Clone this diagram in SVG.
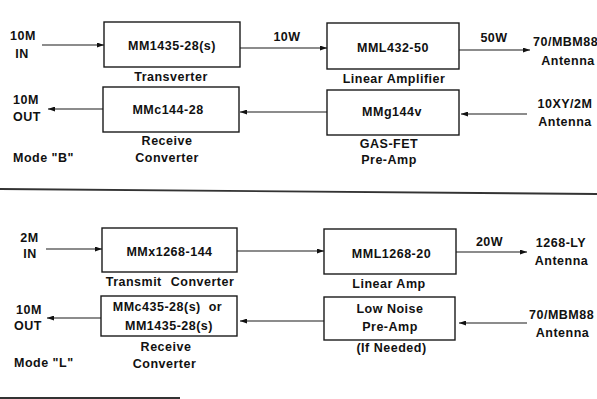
<svg xmlns="http://www.w3.org/2000/svg" width="597" height="399" viewBox="0 0 597 399">
<defs>
<style>
text{font-family:"Liberation Sans",Arial,sans-serif;font-weight:bold;font-size:12.5px;letter-spacing:0.5px;fill:#111}
.m{text-anchor:middle}
.box{fill:#fff;stroke:#1a1a1a;stroke-width:1.4}
.w{stroke:#1a1a1a;stroke-width:1.1;fill:none}
.rule{stroke:#333;stroke-width:1.8;fill:none}
</style>
<marker id="ah" viewBox="0 0 7 5" refX="7" refY="2.5" markerWidth="7" markerHeight="5" markerUnits="userSpaceOnUse" orient="auto">
<path d="M0,0 L7,2.5 L0,5 z" fill="#111"/>
</marker>
</defs>
<rect width="597" height="399" fill="#fff"/>

<g id="connectors">
<line class="w" x1="42" y1="45" x2="104" y2="45" marker-end="url(#ah)"/>
<line class="w" x1="240" y1="48" x2="327" y2="48" marker-end="url(#ah)"/>
<line class="w" x1="459" y1="50" x2="530" y2="50" marker-end="url(#ah)"/>
<line class="w" x1="103" y1="109" x2="48" y2="109" marker-end="url(#ah)"/>
<line class="w" x1="327" y1="112" x2="240" y2="112" marker-end="url(#ah)"/>
<line class="w" x1="527" y1="114" x2="461" y2="114" marker-end="url(#ah)"/>
<line class="w" x1="46" y1="249" x2="102" y2="249" marker-end="url(#ah)"/>
<line class="w" x1="237" y1="251" x2="324" y2="251" marker-end="url(#ah)"/>
<line class="w" x1="456" y1="252" x2="527" y2="252" marker-end="url(#ah)"/>
<line class="w" x1="101" y1="318" x2="47" y2="318" marker-end="url(#ah)"/>
<line class="w" x1="324" y1="321" x2="240" y2="321" marker-end="url(#ah)"/>
<line class="w" x1="527" y1="323" x2="459" y2="323" marker-end="url(#ah)"/>
<text class="m" x="287" y="40.7">10W</text>
<text class="m" x="494" y="41.5">50W</text>
<text class="m" x="489.5" y="246.3">20W</text>
</g>

<g id="rules">
<line class="rule" x1="0" y1="189" x2="597" y2="194"/>
<line class="rule" x1="0" y1="398" x2="180" y2="398"/>
</g>

<g id="in-10m-b">
<text class="m" x="23" y="39.5">10M</text>
<text class="m" x="22" y="57.5">IN</text>
</g>
<g id="transverter">
<rect class="box" x="104" y="22" width="136" height="45"/>
<text class="m" x="172" y="49.5">MM1435-28(s)</text>
<text class="m" x="171" y="81">Transverter</text>
</g>
<g id="linear-amplifier">
<rect class="box" x="327" y="23" width="132" height="46"/>
<text class="m" x="393" y="52">MML432-50</text>
<text class="m" x="394" y="83">Linear Amplifier</text>
</g>
<g id="ant-70mbm88-b">
<text x="533" y="46">70/MBM88</text>
<text class="m" x="568" y="65">Antenna</text>
</g>
<g id="out-10m-b">
<text class="m" x="26" y="104">10M</text>
<text class="m" x="27" y="120.7">OUT</text>
</g>
<g id="receive-converter-b">
<rect class="box" x="103" y="87" width="136" height="45"/>
<text class="m" x="168" y="114.3">MMc144-28</text>
<text class="m" x="167" y="145">Receive</text>
<text class="m" x="167" y="161.7">Converter</text>
</g>
<g id="gasfet-preamp">
<rect class="box" x="327" y="90" width="132" height="45"/>
<text class="m" x="392" y="115.7">MMg144v</text>
<text class="m" x="389" y="148">GAS-FET</text>
<text class="m" x="389" y="164">Pre-Amp</text>
</g>
<g id="ant-10xy">
<text class="m" x="565" y="108.3">10XY/2M</text>
<text class="m" x="565" y="125.7">Antenna</text>
</g>
<text x="13" y="161.5">Mode "B"</text>

<g id="in-2m">
<text class="m" x="29.5" y="241.7">2M</text>
<text class="m" x="30" y="258.3">IN</text>
</g>
<g id="transmit-converter">
<rect class="box" x="102" y="228" width="135" height="44"/>
<text class="m" x="169.5" y="255.7">MMx1268-144</text>
<text class="m" x="170" y="285.5" style="word-spacing:5px">Transmit Converter</text>
</g>
<g id="linear-amp">
<rect class="box" x="324" y="229" width="132" height="45"/>
<text class="m" x="391.5" y="258">MML1268-20</text>
<text class="m" x="389" y="288">Linear Amp</text>
</g>
<g id="ant-1268ly">
<text class="m" x="561" y="246.5">1268-LY</text>
<text class="m" x="561.5" y="265">Antenna</text>
</g>
<g id="out-10m-l">
<text class="m" x="29" y="313.7">10M</text>
<text class="m" x="28" y="330">OUT</text>
</g>
<g id="receive-converter-l">
<rect class="box" x="101" y="296" width="136" height="40"/>
<text class="m" x="167.5" y="311" style="word-spacing:4px">MMc435-28(s) or</text>
<text class="m" x="169" y="329.5">MM1435-28(s)</text>
<text class="m" x="166" y="350.5">Receive</text>
<text class="m" x="164.5" y="368">Converter</text>
</g>
<g id="low-noise-preamp">
<rect class="box" x="324" y="297" width="131" height="43"/>
<text class="m" x="390" y="313.3">Low Noise</text>
<text class="m" x="390" y="330.7">Pre-Amp</text>
<text class="m" x="391.5" y="352">(If Needed)</text>
</g>
<g id="ant-70mbm88-l">
<text x="529" y="319.3">70/MBM88</text>
<text class="m" x="562.5" y="336.7">Antenna</text>
</g>
<text x="14" y="366.7">Mode "L"</text>
</svg>
